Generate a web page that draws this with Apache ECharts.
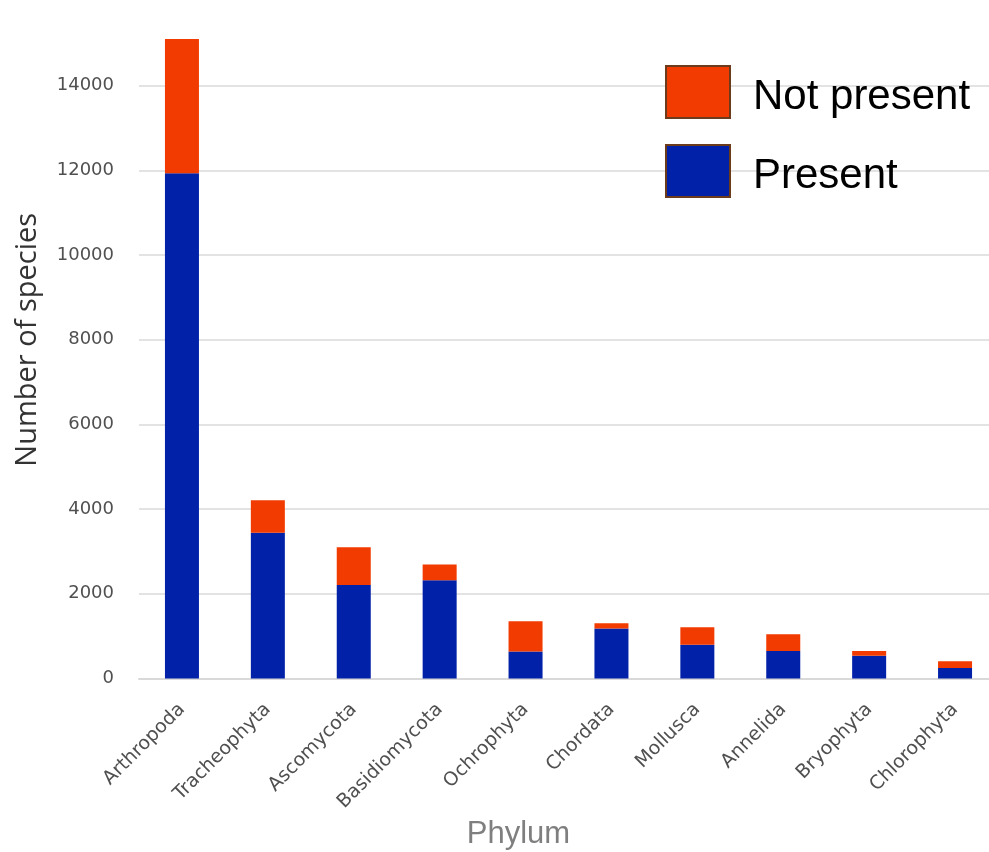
<!DOCTYPE html>
<html>
<head>
<meta charset="utf-8">
<script src="https://cdn.jsdelivr.net/npm/echarts@6/dist/echarts.min.js"></script>
<style>
  html, body { margin: 0; padding: 0; background: #ffffff; }
  #chart { width: 989px; height: 852px; }
</style>
</head>
<body>
<div id="chart"></div>
<script>
// Species counts per phylum, split by presence
const phyla = ['Arthropoda', 'Tracheophyta', 'Ascomycota', 'Basidiomycota', 'Ochrophyta',
               'Chordata', 'Mollusca', 'Annelida', 'Bryophyta', 'Chlorophyta'];
const present    = [11930, 3440, 2210, 2320, 640, 1180, 800, 650, 540, 250];
const notPresent = [3170, 770, 890, 370, 710, 125, 410, 395, 110, 155];
const seriesNames = ['Present', 'Not present'];
const legendOrder = ['Not present', 'Present'];

const chart = echarts.init(document.getElementById('chart'), null, { renderer: 'canvas' });

chart.setOption({
  animation: false,
  backgroundColor: '#ffffff',
  grid: {
    left: 139, width: 859, top: 1, height: 677.5,
    containLabel: false, outerBoundsMode: 'none'
  },
  legend: {
    data: legendOrder,
    orient: 'vertical',
    left: 665,
    top: 65,
    padding: 0,
    icon: 'rect',
    itemWidth: 64,
    itemHeight: 52,
    itemGap: 25,
    itemStyle: { borderColor: '#6b3b1c', borderWidth: 2 },
    formatter: name => '{t|' + name + '}',
    textStyle: {
      fontFamily: 'Liberation Sans', fontSize: 42, color: '#000000',
      rich: {
        t: {
          fontFamily: 'Liberation Sans', fontSize: 42, color: '#000000',
          padding: [10, 0, 0, 18]
        }
      }
    }
  },
  xAxis: {
    type: 'category',
    data: phyla,
    boundaryGap: true,
    axisLine: { show: true, lineStyle: { color: '#d9d9d9', width: 2 } },
    axisTick: { show: false },
    axisLabel: {
      rotate: 45, interval: 0, margin: 28,
      fontFamily: 'DejaVu Sans', fontSize: 19, color: '#505050'
    },
    name: 'Phylum',
    nameLocation: 'middle',
    nameGap: 137,
    nameTextStyle: {
      fontFamily: 'Liberation Sans', fontSize: 31, color: '#7f7f7f',
      padding: [0, 100, 0, 0]
    }
  },
  yAxis: {
    type: 'value',
    min: 0, max: 16000, interval: 2000,
    axisLine: { show: false },
    axisTick: { show: false },
    splitLine: { show: true, showMaxLine: false, lineStyle: { color: '#e3e3e3', width: 2 } },
    axisLabel: {
      margin: 25, showMaxLabel: false,
      fontFamily: 'DejaVu Sans', fontSize: 18, color: '#505050',
      formatter: v => String(v)
    },
    name: 'Number of species',
    nameLocation: 'middle',
    nameGap: 97,
    nameTextStyle: { fontFamily: 'Open Sans', fontSize: 29, color: '#333333' }
  },
  series: [
    {
      name: seriesNames[0], type: 'bar', stack: 'total',
      data: present, barWidth: 34,
      itemStyle: { color: '#0021a8' }
    },
    {
      name: seriesNames[1], type: 'bar', stack: 'total',
      data: notPresent, barWidth: 34,
      itemStyle: { color: '#f23b00' }
    }
  ]
});
</script>
</body>
</html>
